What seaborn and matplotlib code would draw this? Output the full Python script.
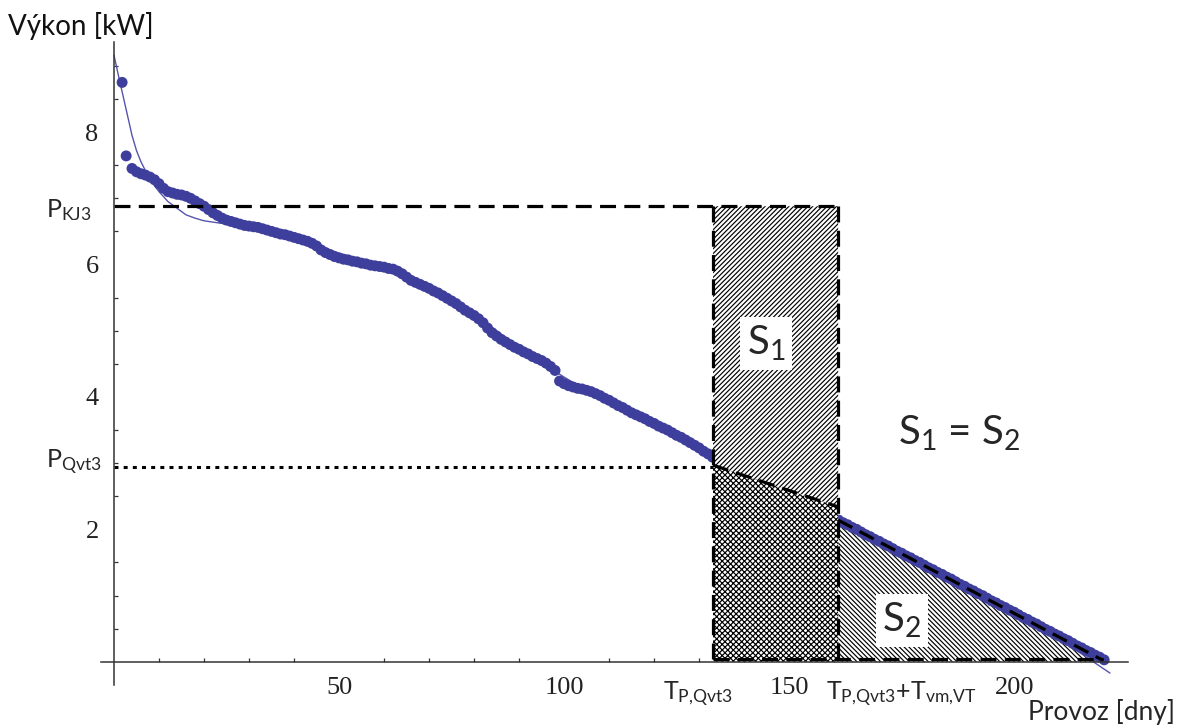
import matplotlib
matplotlib.use("Agg")
import matplotlib.pyplot as plt
import seaborn as sns
import pandas as pd
from matplotlib.patches import Polygon

# ---------------- data ----------------
days = [1.8, 2.7] + list(range(4, 221))
power = [8.75, 7.64,
         7.45, 7.40, 7.37, 7.35, 7.32, 7.28, 7.22,                    # 4-10
         7.15, 7.10, 7.08, 7.06, 7.05, 7.03,                          # 11-16
         7.00, 6.96, 6.92, 6.88, 6.83, 6.78,                          # 17-22
         6.74, 6.70, 6.67, 6.65, 6.63, 6.61, 6.59, 6.58,              # 23-30
         6.57, 6.56, 6.54, 6.52, 6.50, 6.48, 6.46, 6.45, 6.43, 6.41,  # 31-40
         6.39, 6.37, 6.35, 6.32, 6.28, 6.22, 6.18, 6.15, 6.12, 6.10,  # 41-50
         6.08, 6.07, 6.05, 6.04, 6.02, 6.01, 5.99, 5.98, 5.97, 5.96,  # 51-60
         5.94, 5.93, 5.90, 5.86, 5.81, 5.76, 5.73, 5.70, 5.67, 5.64,  # 61-70
         5.60, 5.57, 5.53, 5.49, 5.45, 5.41, 5.36, 5.31, 5.27, 5.23,  # 71-80
         5.18, 5.12, 5.04, 4.97, 4.92, 4.87, 4.83, 4.79, 4.75, 4.72,  # 81-90
         4.68, 4.65, 4.61, 4.58, 4.55, 4.51, 4.46, 4.40,              # 91-98
         4.24, 4.20, 4.17, 4.15, 4.13, 4.12, 4.10, 4.08, 4.05, 4.02,  # 99-108
         3.98, 3.95, 3.91, 3.87, 3.84, 3.80, 3.76, 3.73, 3.70, 3.67,  # 109-118
         3.63, 3.60, 3.56, 3.53, 3.50, 3.46, 3.42, 3.39, 3.35, 3.31,  # 119-128
         3.27, 3.23, 3.18, 3.14, 3.09, 3.05,                          # 129-134
         3.01, 2.97, 2.94, 2.90, 2.86, 2.83, 2.79, 2.76, 2.72, 2.69,  # 135-144
         2.65, 2.62, 2.58, 2.55, 2.51, 2.48, 2.44, 2.41, 2.37, 2.34,  # 145-154
         2.30, 2.27, 2.23, 2.21, 2.18, 2.16,                          # 155-160
         2.14, 2.10, 2.07, 2.03, 2.00, 1.96, 1.92, 1.89, 1.85, 1.82,  # 161-170
         1.78, 1.75, 1.71, 1.67, 1.64, 1.60, 1.57, 1.53, 1.50, 1.46,  # 171-180
         1.42, 1.39, 1.35, 1.32, 1.28, 1.25, 1.21, 1.17, 1.14, 1.10,  # 181-190
         1.07, 1.03, 1.00, 0.96, 0.92, 0.89, 0.85, 0.82, 0.78, 0.75,  # 191-200
         0.71, 0.67, 0.64, 0.60, 0.57, 0.53, 0.49, 0.46, 0.42, 0.39,  # 201-210
         0.35, 0.32, 0.28, 0.24, 0.21, 0.17, 0.14, 0.10, 0.07, 0.03]  # 211-220

fit_days = [0, 1, 2, 3, 4, 5, 6, 8, 10, 12, 14, 16, 18, 20, 23, 26, 30, 35, 40, 45, 50,
            55, 60, 65, 70, 75, 80, 85, 90, 95, 100, 105, 110, 115, 120, 125, 130, 140,
            150, 160, 170, 180, 190, 200, 210, 221.3]
fit_power = [9.16, 8.85, 8.55, 8.25, 7.95, 7.72, 7.55, 7.28, 7.10, 6.95, 6.85, 6.75,
             6.70, 6.66, 6.63, 6.60, 6.55, 6.48, 6.40, 6.30, 6.17, 6.07, 5.97, 5.85,
             5.68, 5.48, 5.25, 5.00, 4.75, 4.52, 4.30, 4.10, 3.92, 3.75, 3.58, 3.42,
             3.24, 2.88, 2.52, 2.16, 1.80, 1.43, 1.07, 0.71, 0.35, -0.17]

x_ticks = [50, 100, 150, 200]
y_ticks = [2, 4, 6, 8]

P_KJ3 = 6.88
P_QVT3 = 2.94
T_PQVT3 = 133.1
T_PQVT3_VM = 160.9
T_END = 219.8
S1_LOW_LEFT = 2.97
S1_LOW_RIGHT = 2.34
S2_TOP = 2.14

# ---------------- style ----------------
sns.set_theme(style="white")
plt.rcParams["font.family"] = ["Lato", "DejaVu Sans"]
plt.rcParams["mathtext.fontset"] = "custom"
plt.rcParams["mathtext.rm"] = "Lato"
plt.rcParams["mathtext.it"] = "Lato"
plt.rcParams["hatch.linewidth"] = 0.85

W, H = 1179, 725
fig = plt.figure(figsize=(W / 100, H / 100), dpi=100)
x0_px, x1_px = 100.5, 1128
y_top_px, y_bot_px = 42, 685
ax = fig.add_axes([x0_px / W, (H - y_bot_px) / H, (x1_px - x0_px) / W, (y_bot_px - y_top_px) / H])
ax.set_xlim(-3, 225.3)
ax.set_ylim(-0.35, 9.36)
ax.set_facecolor("white")

blue = "#3e3e9c"
df = pd.DataFrame({"day": days, "power": power})
fit = pd.DataFrame({"day": fit_days, "power": fit_power})
sns.lineplot(data=fit, x="day", y="power", ax=ax, color="#5555ad", lw=1.0, sort=False, zorder=2)
sns.scatterplot(data=df, x="day", y="power", ax=ax, color=blue, s=62, edgecolor="none",
                linewidth=0, zorder=3)

# hatched regions (white filled, black hatch, no outline)
s1 = Polygon([(T_PQVT3, P_KJ3), (T_PQVT3_VM, P_KJ3), (T_PQVT3_VM, S1_LOW_RIGHT), (T_PQVT3, S1_LOW_LEFT)],
             closed=True, facecolor="white", edgecolor="black", linewidth=0, hatch="///////", zorder=4)
mid = Polygon([(T_PQVT3, S1_LOW_LEFT), (T_PQVT3_VM, S1_LOW_RIGHT), (T_PQVT3_VM, 0), (T_PQVT3, 0)],
              closed=True, facecolor="white", edgecolor="black", linewidth=0, hatch="xxxxxx", zorder=4)
s2 = Polygon([(T_PQVT3_VM, S2_TOP), (T_END, 0), (T_PQVT3_VM, 0)],
             closed=True, facecolor="white", edgecolor="black", linewidth=0,
             hatch="\\\\\\\\\\\\\\", zorder=1)
for p in (s1, mid, s2):
    ax.add_patch(p)

dash = dict(color="black", lw=2.3, linestyle=(0, (5, 2.6)), zorder=5, solid_capstyle="butt")
ax.plot([0, T_PQVT3_VM], [P_KJ3, P_KJ3], **dash)
ax.plot([T_PQVT3, T_PQVT3], [P_KJ3, 0], **dash)
ax.plot([T_PQVT3_VM, T_PQVT3_VM], [P_KJ3, 0], **dash)
ax.plot([T_PQVT3, T_END], [0.05, 0.05], **dash)
ax.plot([T_PQVT3, T_PQVT3_VM], [S1_LOW_LEFT, S1_LOW_RIGHT], **dash)
ax.plot([T_PQVT3_VM, T_END], [S2_TOP, 0.02], **dash)
ax.plot([0, T_PQVT3], [P_QVT3, P_QVT3], color="black", lw=2.2,
        linestyle=(0, (1.3, 1.7)), zorder=5)

# axes styling
for side in ("top", "right"):
    ax.spines[side].set_visible(False)
ax.spines["bottom"].set_position(("data", 0))
ax.spines["left"].set_position(("data", 0))
for side in ("left", "bottom"):
    ax.spines[side].set_color("#333333")
    ax.spines[side].set_linewidth(1.1)
    ax.spines[side].set_zorder(6)
ax.set_xticks(x_ticks)
ax.set_xticks(range(10, 230, 10), minor=True)
ax.set_yticks(y_ticks)
ax.set_yticks([v / 2 for v in range(1, 19)], minor=True)
ax.tick_params(axis="both", which="major", direction="in", length=5, width=1.0, color="#333333",
               labelsize=19, pad=11)
ax.tick_params(axis="both", which="minor", direction="in", length=3, width=0.9, color="#333333")
ax.tick_params(axis="x", which="minor", bottom=True)
ax.tick_params(axis="y", which="minor", left=True)
ax.set_xticklabels([str(v) for v in x_ticks], family="Liberation Serif", color="#222222")
ax.set_yticklabels([str(v) for v in y_ticks], family="Liberation Serif", color="#222222")
ax.set_xlabel("")
ax.set_ylabel("")
ax.grid(False)

def fx(px):
    return px / W

def fy(py):
    return 1 - py / H

fig.text(fx(8), fy(35), "Výkon [kW]", fontsize=20, ha="left", va="baseline", color="#111111")
fig.text(fx(46), fy(217), r"$\mathrm{P}_{\mathrm{KJ3}}$", fontsize=18, ha="left", va="baseline")
fig.text(fx(46), fy(468), r"$\mathrm{P}_{\mathrm{Qvt3}}$", fontsize=18, ha="left", va="baseline")
fig.text(fx(663), fy(700), r"$\mathrm{T}_{\mathrm{P{,}Qvt3}}$", fontsize=18, ha="left", va="baseline")
fig.text(fx(826), fy(700), r"$\mathrm{T}_{\mathrm{P{,}Qvt3}}\mathrm{+T}_{\mathrm{vm{,}VT}}$", fontsize=18,
         ha="left", va="baseline")
fig.text(fx(1175), fy(720), "Provoz [dny]", fontsize=19, ha="right", va="baseline")
fig.text(fx(766), fy(355), r"$\mathrm{S}_{1}$", fontsize=29, ha="center", va="baseline", zorder=10,
         bbox=dict(facecolor="white", edgecolor="none", pad=5))
fig.text(fx(902), fy(632), r"$\mathrm{S}_{2}$", fontsize=29, ha="center", va="baseline", zorder=10,
         bbox=dict(facecolor="white", edgecolor="none", pad=5))
fig.text(fx(898), fy(445), r"$\mathrm{S}_{1}$ = $\mathrm{S}_{2}$", fontsize=29, ha="left", va="baseline")

fig.savefig("out.png", dpi=100, facecolor="white")
